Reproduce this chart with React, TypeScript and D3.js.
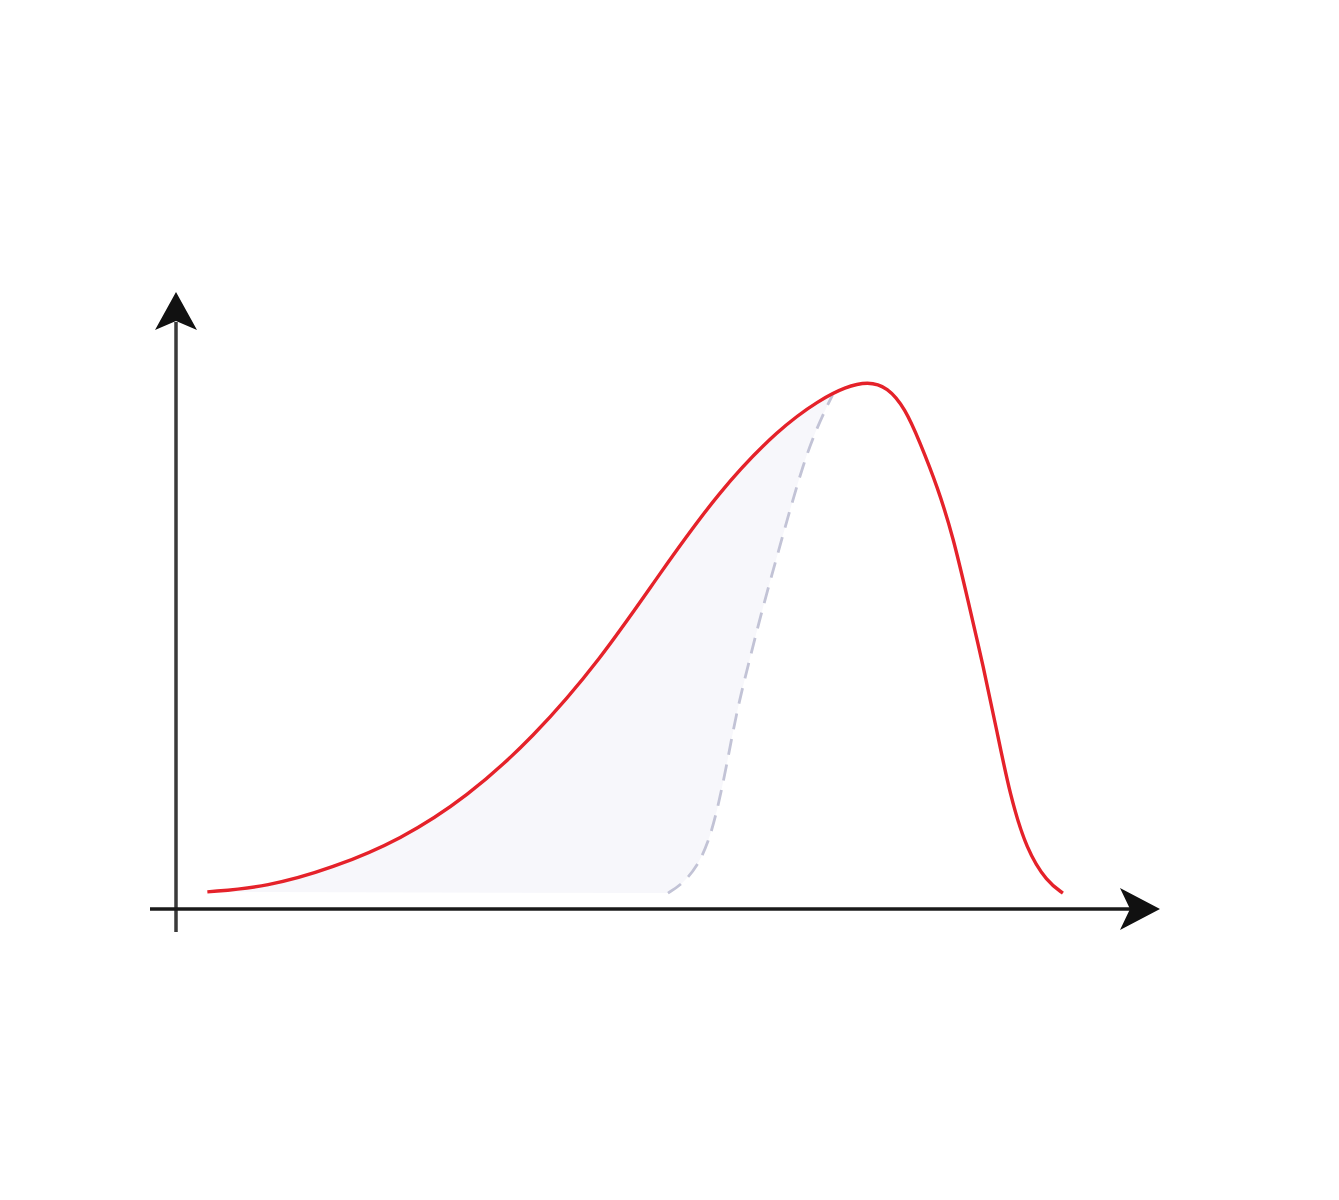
import React from "react";
import * as d3 from "d3";

// Red density curve (data units: x 0..100, y 0..100)
const curveX = [3.2, 9.3, 16.0, 22.9, 29.7, 36.4, 43.3, 49.4, 55.5, 61.6, 65.7, 68.3, 70.6, 72.6, 74.4, 75.9, 77.7, 79.3, 80.8, 82.4, 83.8, 85.1, 86.8, 88.9, 90.5];
const curveY = [2.8, 3.6, 6.7, 11.3, 18.3, 27.9, 40.7, 54.9, 68.5, 78.6, 83.2, 85.3, 86.2, 85.3, 81.8, 76.3, 69.0, 60.8, 50.5, 39.5, 28.8, 18.6, 9.6, 4.4, 2.6];

// Dashed curve (bottom to top)
const dashX = [50.2, 51.7, 53.2, 54.3, 55.2, 56.2, 57.2, 58.4, 59.6, 61.3, 62.7, 64.0, 65.2, 66.5, 67.0];
const dashY = [2.6, 4.1, 7.0, 10.8, 15.9, 23.5, 32.2, 39.9, 47.6, 57.5, 65.5, 72.6, 77.9, 82.4, 84.0];

const W = 1339;
const H = 1200;

export default function App() {
  const x = d3.scaleLinear().domain([0, 100]).range([176, 1156]);
  const y = d3.scaleLinear().domain([0, 100]).range([909, 297]);

  const red = curveX.map((v, i) => [v, curveY[i]] as [number, number]);
  const dash = dashX.map((v, i) => [v, dashY[i]] as [number, number]);

  const line = d3
    .line<[number, number]>()
    .x((d) => x(d[0]))
    .y((d) => y(d[1]))
    .curve(d3.curveBasis);

  const topX = dashX[dashX.length - 1];
  const leftRed = red.filter((d) => d[0] < topX);
  const redPart = line(leftRed) || "";
  const dashRev = line(dash.slice().reverse()) || "";
  const fillPath = redPart + dashRev.replace(/^M/, "L") + "Z";

  const ox = x(0);
  const oy = y(0);

  const xTip = 1160;
  const yTip = 292;
  const xArrow = `M${xTip},${oy} L${xTip - 40},${oy - 21} L${xTip - 30},${oy} L${xTip - 40},${oy + 21} Z`;
  const yArrow = `M${ox},${yTip} L${ox - 21},${yTip + 38} L${ox},${yTip + 29} L${ox + 21},${yTip + 38} Z`;

  return (
    <svg
      width={W}
      height={H}
      style={{ position: "absolute", left: 0, top: 0, background: "#fff" }}
    >
      <rect x={0} y={0} width={W} height={H} fill="#fff" />
      <path d={fillPath} fill="#f7f7fb" stroke="none" />
      <path
        d={line(dash) || ""}
        fill="none"
        stroke="#c2c3d6"
        strokeWidth={2.8}
        strokeDasharray="16 10"
      />
      <path d={line(red) || ""} fill="none" stroke="#e5222a" strokeWidth={3.4} />
      {/* y axis */}
      <line x1={ox} y1={932} x2={ox} y2={yTip + 30} stroke="#3a3a3a" strokeWidth={3.5} />
      <path d={yArrow} fill="#111" />
      {/* x axis */}
      <line x1={150} y1={oy} x2={xTip - 30} y2={oy} stroke="#1a1a1a" strokeWidth={3.5} />
      <path d={xArrow} fill="#111" />
    </svg>
  );
}
